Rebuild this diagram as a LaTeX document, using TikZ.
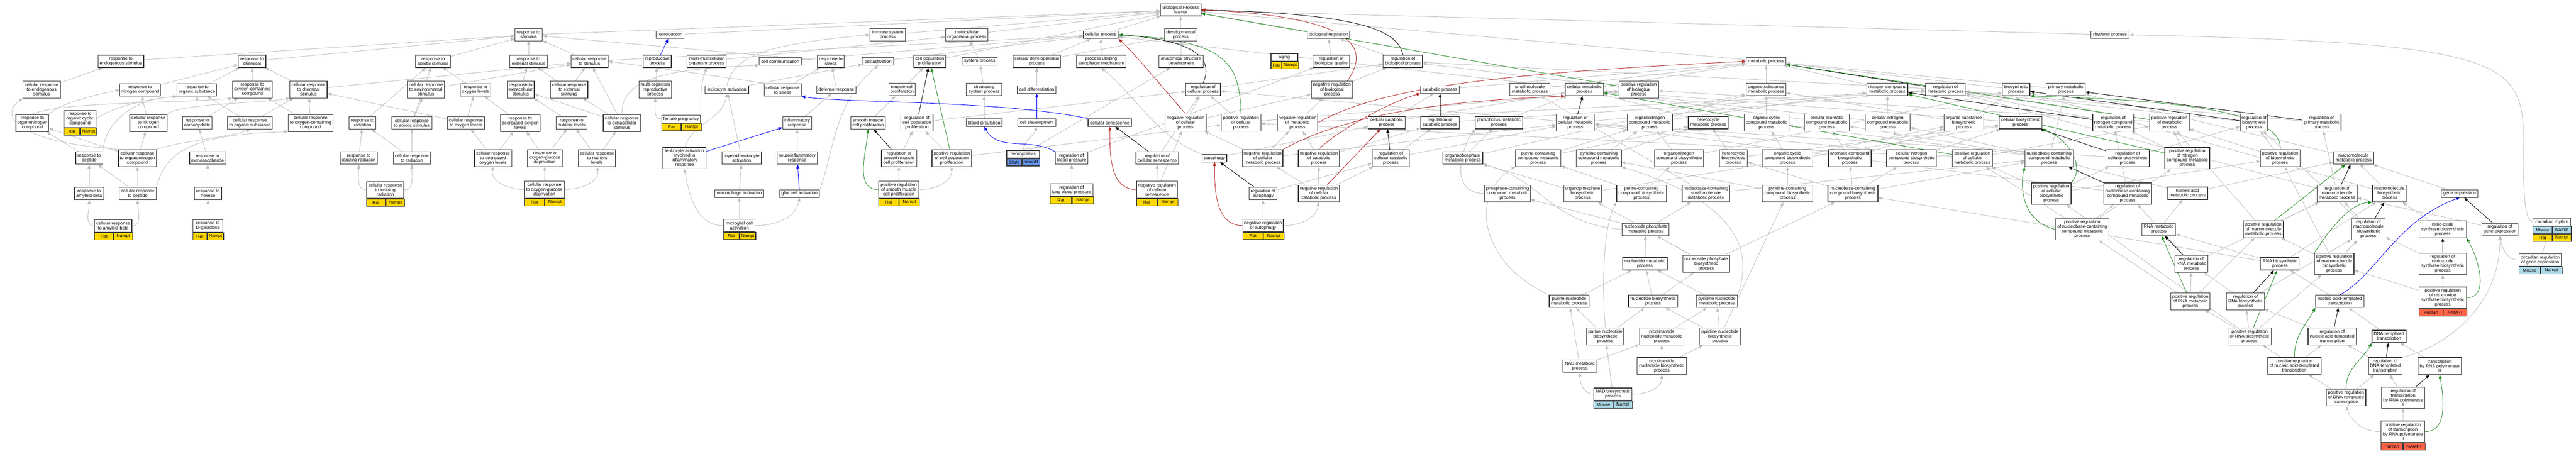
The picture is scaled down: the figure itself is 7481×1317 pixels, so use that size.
\documentclass[tikz,border=0pt]{standalone}
\usepackage{fontspec}
\setmainfont{Liberation Sans}
\usetikzlibrary{arrows.meta}
\pgfdeclarelayer{background}
\pgfsetlayers{background,main}
\definecolor{edgegray}{RGB}{190,190,190}
\definecolor{boxline}{RGB}{60,60,60}
\definecolor{gogreen}{RGB}{34,139,34}
\definecolor{gored}{RGB}{178,34,34}
\definecolor{goblue}{RGB}{0,0,255}
\definecolor{spyellow}{RGB}{255,215,0}
\definecolor{splblue}{RGB}{173,216,230}
\definecolor{spcblue}{RGB}{100,149,237}
\definecolor{sptomato}{RGB}{255,99,71}
\newcommand\gofont{\fontsize{13}{13.5}\selectfont}
\tikzset{
 gobox/.style={draw=boxline,line width=1.8pt,fill=white,align=center,inner sep=0pt,font=\gofont},
 gocell/.style={draw=boxline,line width=1.8pt,align=center,inner sep=0pt,font=\gofont,minimum height=21pt},
 isa/.style={draw=edgegray,line width=1.3pt,-{Triangle[length=11pt,width=9pt]}},
 reg/.style={isa,draw=black},
 preg/.style={isa,draw=gogreen},
 nreg/.style={isa,draw=gored},
 partof/.style={isa,draw=goblue},
}
\newcommand\gonode[6]{\node[gobox,minimum width=#4pt,minimum height=#5pt] (#1) at (#2,#3) {#6};}
\newcommand\gospec[6]{%
 \node[gocell,fill=#2,minimum width=#5pt,anchor=north west] (#1-l) at (#1.south west) {#3};
 \node[gocell,fill=#2,minimum width=#6pt,anchor=north west] (#1-r) at (#1-l.north east) {#4};}
\begin{document}
\begin{tikzpicture}[x=1pt,y=-1pt]
\useasboundingbox (0,0) rectangle (7481,1317);
\begin{pgfonlayer}{background}\fill[white] (0,0) rectangle (7481,1317);\end{pgfonlayer}
% ---------- response cluster
\gonode{n1}{351}{178}{133}{36}{response to\\endogenous stimulus}
\gonode{n2}{732}{178}{80}{36}{response to\\chemical}
\gonode{n3}{1258}{178}{101}{36}{response to\\abiotic stimulus}
\gonode{n4}{121}{260}{108}{49}{cellular response\\to endogenous\\stimulus}
\gonode{n5}{407}{261}{119}{36}{response to\\nitrogen compound}
\gonode{n6}{572}{261}{115}{36}{response to\\organic substance}
\gonode{n7}{733}{260}{115}{49}{response to\\oxygen-containing\\compound}
\gonode{n8}{896}{260}{108}{49}{cellular response\\to chemical\\stimulus}
\gonode{n9}{1237}{260}{108}{49}{cellular response\\to environmental\\stimulus}
\gonode{n10}{94}{357}{95}{49}{response to\\organonitrogen\\compound}
\gonode{n11}{232}{345.5}{93}{49}{response to\\organic cyclic\\compound}
\gospec{n11}{spyellow}{Rat}{Nampt}{46.5}{46.5}
\gonode{n12}{431}{357}{108}{49}{cellular response\\to nitrogen\\compound}
\gonode{n13}{573}{357}{85}{36}{response to\\carbohydrate}
\gonode{n14}{726}{357}{130}{36}{cellular response\\to organic substance}
\gonode{n15}{902}{357}{130}{49}{cellular response\\to oxygen-containing\\compound}
\gonode{n16}{1053}{357}{78}{36}{response to\\radiation}
\gonode{n17}{1196}{357}{116}{36}{cellular response\\to abiotic stimulus}
\gonode{n18}{259}{459}{78}{36}{response to\\peptide}
\gonode{n19}{399}{459}{110}{49}{cellular response\\to organonitrogen\\compound}
\gonode{n20}{603}{459}{105}{36}{response to\\monosaccharide}
\gonode{n21}{1042}{459}{107}{36}{response to\\ionizing radiation}
\gonode{n22}{1196}{459}{108}{36}{cellular response\\to radiation}
\gonode{n23}{259}{562}{84}{36}{response to\\amyloid-beta}
\gonode{n24}{400}{562}{108}{36}{cellular response\\to peptide}
\gonode{n25}{604}{562}{79}{36}{response to\\hexose}
\gonode{n26}{1119}{551.5}{108}{49}{cellular response\\to ionizing\\radiation}
\gospec{n26}{spyellow}{Rat}{Nampt}{54}{54}
\gonode{n27}{329}{656}{108}{36}{cellular response\\to amyloid-beta}
\gospec{n27}{spyellow}{Rat}{Nampt}{54}{54}
\gonode{n28}{604}{656}{87}{36}{response to\\D-galactose}
\gospec{n28}{spyellow}{Rat}{Nampt}{40}{47}
\gonode{n29}{1535}{101}{80}{36}{response to\\stimulus}
\gonode{n30}{1946}{101}{81}{22}{reproduction}
\gonode{n31}{2578}{101}{103}{36}{immune system\\process}
\gonode{n32}{1535}{178}{109}{36}{response to\\external stimulus}
\gonode{n33}{1712}{178}{108}{36}{cellular response\\to stimulus}
\gonode{n34}{1909}{178}{81}{36}{reproductive\\process}
\gonode{n35}{2052}{178}{113}{36}{multi-multicellular\\organism process}
\gonode{n36}{2266}{178}{122}{22}{cell communication}
\gonode{n37}{2413}{178}{78}{36}{response to\\stress}
\gonode{n38}{2550}{178}{92}{22}{cell activation}
\gonode{n39}{1381}{261}{89}{36}{response to\\oxygen levels}
\gonode{n40}{1512}{260}{79}{49}{response to\\extracellular\\stimulus}
\gonode{n41}{1653}{260}{108}{49}{cellular response\\to external\\stimulus}
\gonode{n42}{1903}{260}{94}{49}{multi-organism\\reproductive\\process}
\gonode{n43}{2111}{260}{126}{22}{leukocyte activation}
\gonode{n44}{2273}{261}{108}{36}{cellular response\\to stress}
\gonode{n45}{2429}{260}{113}{22}{defense response}
\gonode{n46}{1353}{357}{107}{36}{cellular response\\to oxygen levels}
\gonode{n47}{1511}{357}{115}{49}{response to\\decreased oxygen\\levels}
\gonode{n48}{1660}{357}{90}{36}{response to\\nutrient levels}
\gonode{n49}{1806}{357}{108}{49}{cellular response\\to extracellular\\stimulus}
\gonode{n50}{1978}{345.5}{113}{22}{female pregnancy}
\gospec{n50}{spyellow}{Rat}{Nampt}{56.5}{56.5}
\gonode{n51}{2315}{357}{84}{36}{inflammatory\\response}
\gonode{n52}{2521}{357}{101}{36}{smooth muscle\\cell proliferation}
\gonode{n53}{1432}{459}{108}{49}{cellular response\\to decreased\\oxygen levels}
\gonode{n54}{1582}{459}{102}{49}{response to\\oxygen-glucose\\deprivation}
\gonode{n55}{1734}{459}{108}{49}{cellular response\\to nutrient\\levels}
\gonode{n56}{1988}{459}{126}{62}{leukocyte activation\\involved in\\inflammatory\\response}
\gonode{n57}{2154}{459}{115}{36}{myeloid leukocyte\\activation}
\gonode{n58}{2315}{459}{117}{36}{neuroinflammatory\\response}
\gonode{n59}{1581}{550.5}{116}{49}{cellular response\\to oxygen-glucose\\deprivation}
\gospec{n59}{spyellow}{Rat}{Nampt}{58}{58}
\gonode{n60}{2147}{562}{142}{22}{macrophage activation}
\gonode{n61}{2322}{562}{116}{22}{glial cell activation}
\gonode{n62}{2147}{655}{92}{36}{microglial cell\\activation}
\gospec{n62}{spyellow}{Rat}{Nampt}{46}{46}
% ---------- top / cellular process cluster
\gonode{n63}{3429}{29}{118}{35}{Biological Process\\Nampt}
\gonode{n64}{2808}{101}{123}{36}{multicellular\\organismal process}
\gonode{n65}{3197}{101}{101}{22}{cellular process}
\gonode{n66}{3429}{101}{94}{36}{developmental\\process}
\gonode{n67}{3858}{101}{122}{22}{biological regulation}
\gonode{n68}{2700}{178}{93}{36}{cell population\\proliferation}
\gonode{n69}{2845}{178}{102}{22}{system process}
\gonode{n70}{3011}{178}{138}{36}{cellular developmental\\process}
\gonode{n71}{3198}{178}{144}{36}{process utilizing\\autophagic mechanism}
\gonode{n72}{3430}{178}{128}{36}{anatomical structure\\development}
\gonode{n73}{3730}{166.5}{78}{22}{aging}
\gospec{n73}{spyellow}{Rat}{Nampt}{31}{47}
\gonode{n74}{3866}{178}{107}{36}{regulation of\\biological quality}
\gonode{n75}{2620}{260}{77}{36}{muscle cell\\proliferation}
\gonode{n76}{2858}{260}{103}{36}{circulatory\\system process}
\gonode{n77}{3011}{260}{112}{22}{cell differentiation}
\gonode{n78}{3494}{260}{101}{36}{regulation of\\cellular process}
\gonode{n79}{3868}{260}{120}{49}{negative regulation\\of biological\\process}
\gonode{n80}{2663}{356}{93}{49}{regulation of\\cell population\\proliferation}
\gonode{n81}{2858}{356}{104}{22}{blood circulation}
\gonode{n82}{3011}{356}{110}{22}{cell development}
\gonode{n83}{3223}{356}{126}{22}{cellular senescence}
\gonode{n84}{3443}{356}{119}{49}{negative regulation\\of cellular\\process}
\gonode{n85}{3604}{356}{115}{49}{positive regulation\\of cellular\\process}
\gonode{n86}{3768}{356}{117}{49}{negative regulation\\of metabolic\\process}
\gonode{n87}{2611}{459}{102}{49}{regulation of\\smooth muscle\\cell proliferation}
\gonode{n88}{2764}{459}{115}{49}{positive regulation\\of cell population\\proliferation}
\gonode{n89}{2971}{448}{95}{22}{hemopoiesis}
\gospec{n89}{spcblue}{Zfish}{nampt1}{43}{52}
\gonode{n90}{3112}{459}{95}{36}{regulation of\\blood pressure}
\gonode{n91}{3361}{459}{124}{36}{regulation of\\cellular senescence}
\gonode{n92}{3527}{459}{71}{22}{autophagy}
\gonode{n93}{3667}{459}{117}{49}{negative regulation\\of cellular\\metabolic process}
\gonode{n94}{3830}{459}{119}{49}{negative regulation\\of catabolic\\process}
\gonode{n95}{2610}{550.5}{117}{49}{positive regulation\\of smooth muscle\\cell proliferation}
\gospec{n95}{spyellow}{Rat}{Nampt}{58.5}{58.5}
\gonode{n96}{3112}{551}{124}{36}{regulation of\\lung blood pressure}
\gospec{n96}{spyellow}{Rat}{Nampt}{62}{62}
\gonode{n97}{3360}{550.5}{119}{49}{negative regulation\\of cellular\\senescence}
\gospec{n97}{spyellow}{Rat}{Nampt}{59.5}{59.5}
\gonode{n98}{3668}{562}{81}{36}{regulation of\\autophagy}
\gonode{n99}{3830}{562}{119}{49}{negative regulation\\of cellular\\catabolic process}
\gonode{n100}{3668}{655}{118}{36}{negative regulation\\of autophagy}
\gospec{n100}{spyellow}{Rat}{Nampt}{59}{59}
% ---------- metabolic cluster
\gonode{n101}{4074}{178}{114}{36}{regulation of\\biological process}
\gonode{n102}{5129}{178}{116}{22}{metabolic process}
\gonode{n103}{4182}{260}{112}{22}{catabolic process}
\gonode{n104}{4443}{260}{116}{36}{small molecule\\metabolic process}
\gonode{n105}{4601}{260}{111}{36}{cellular metabolic\\process}
\gonode{n106}{4759}{260}{115}{49}{positive regulation\\of biological\\process}
\gonode{n107}{5129}{260}{116}{36}{organic substance\\metabolic process}
\gonode{n108}{4027}{356}{107}{36}{cellular catabolic\\process}
\gonode{n109}{4182}{356}{112}{36}{regulation of\\catabolic process}
\gonode{n110}{4353}{356}{137}{36}{phosphorus metabolic\\process}
\gonode{n111}{4575}{356}{111}{49}{regulation of\\cellular metabolic\\process}
\gonode{n112}{4791}{356}{131}{49}{organonitrogen\\compound metabolic\\process}
\gonode{n113}{4961}{356}{116}{36}{heterocycle\\metabolic process}
\gonode{n114}{5130}{356}{130}{49}{organic cyclic\\compound metabolic\\process}
\gonode{n115}{4039}{459}{108}{49}{regulation of\\cellular catabolic\\process}
\gonode{n116}{4248}{459}{116}{36}{organophosphate\\metabolic process}
\gonode{n117}{4467}{459}{131}{49}{purine-containing\\compound metabolic\\process}
\gonode{n118}{4643}{459}{131}{49}{pyridine-containing\\compound metabolic\\process}
\gonode{n119}{4876}{459}{143}{49}{organonitrogen\\compound biosynthetic\\process}
\gonode{n120}{5034}{459}{80}{49}{heterocycle\\biosynthetic\\process}
\gonode{n121}{5191}{459}{146}{49}{organic cyclic\\compound biosynthetic\\process}
\gonode{n122}{4378}{562}{133}{49}{phosphate-containing\\compound metabolic\\process}
\gonode{n123}{4596}{562}{109}{49}{organophosphate\\biosynthetic\\process}
\gonode{n124}{4767}{562}{144}{49}{purine-containing\\compound biosynthetic\\process}
\gonode{n125}{4954}{562}{138}{49}{nucleobase-containing\\small molecule\\metabolic process}
\gonode{n126}{5191}{562}{146}{49}{pyridine-containing\\compound biosynthetic\\process}
\gonode{n127}{5381}{562}{145}{49}{nucleobase-containing\\compound biosynthetic\\process}
\gonode{n128}{4779}{666}{136}{36}{nucleoside phosphate\\metabolic process}
\gonode{n129}{4777}{766}{129}{36}{nucleotide metabolic\\process}
\gonode{n130}{4955}{766}{136}{49}{nucleoside phosphate\\biosynthetic\\process}
\gonode{n131}{4557}{875}{116}{36}{purine nucleotide\\metabolic process}
\gonode{n132}{4801}{875}{143}{36}{nucleotide biosynthetic\\process}
\gonode{n133}{4986}{875}{119}{36}{pyridine nucleotide\\metabolic process}
\gonode{n134}{4662}{977}{108}{49}{purine nucleotide\\biosynthetic\\process}
\gonode{n135}{4826}{977}{129}{49}{nicotinamide\\nucleotide metabolic\\process}
\gonode{n136}{4995}{977}{119}{49}{pyridine nucleotide\\biosynthetic\\process}
\gonode{n137}{4588}{1063}{98}{36}{NAD metabolic\\process}
\gonode{n138}{4826}{1063}{143}{49}{nicotinamide\\nucleotide biosynthetic\\process}
\gonode{n139}{4684}{1144.5}{110}{36}{NAD biosynthetic\\process}
\gospec{n139}{splblue}{Mouse}{Nampt}{55}{55}
\gonode{n140}{6128}{101}{111}{22}{rhythmic process}
\gonode{n141}{5481}{260}{119}{36}{nitrogen compound\\metabolic process}
\gonode{n142}{5650}{260}{115}{36}{regulation of\\metabolic process}
\gonode{n143}{5855}{260}{80}{36}{biosynthetic\\process}
\gonode{n144}{5999}{260}{113}{36}{primary metabolic\\process}
\gonode{n145}{5305}{356}{131}{49}{cellular aromatic\\compound metabolic\\process}
\gonode{n146}{5482}{356}{130}{49}{cellular nitrogen\\compound metabolic\\process}
\gonode{n147}{5703}{356}{115}{49}{organic substance\\biosynthetic\\process}
\gonode{n148}{5868}{356}{125}{36}{cellular biosynthetic\\process}
\gonode{n149}{6137}{356}{119}{49}{regulation of\\nitrogen compound\\metabolic process}
\gonode{n150}{6300}{356}{115}{49}{positive regulation\\of metabolic\\process}
\gonode{n151}{5372}{459}{124}{49}{aromatic compound\\biosynthetic\\process}
\gonode{n152}{5551}{459}{144}{49}{cellular nitrogen\\compound biosynthetic\\process}
\gonode{n153}{5728}{459}{116}{49}{positive regulation\\of cellular\\metabolic process}
\gonode{n154}{5951}{459}{140}{49}{nucleobase-containing\\compound metabolic\\process}
\gonode{n155}{6179}{459}{126}{49}{regulation of\\cellular biosynthetic\\process}
\gonode{n156}{6352}{459}{130}{62}{positive regulation\\of nitrogen\\compound metabolic\\process}
\gonode{n157}{5957}{562}{115}{62}{positive regulation\\of cellular\\biosynthetic\\process}
\gonode{n158}{6179}{562}{138}{62}{regulation of\\nucleobase-containing\\compound metabolic\\process}
\gonode{n159}{6353}{561}{116}{36}{nucleic acid\\metabolic process}
\gonode{n160}{6047}{666}{155}{62}{positive regulation\\of nucleobase-containing\\compound metabolic\\process}
\gonode{n161}{6269}{666}{97}{36}{RNA metabolic\\process}
\gonode{n162}{6364}{766}{96}{49}{regulation of\\RNA metabolic\\process}
\gonode{n163}{6361}{875}{113}{49}{positive regulation\\of RNA metabolic\\process}
\gonode{n164}{6546}{356}{80}{49}{regulation of\\biosynthetic\\process}
\gonode{n165}{6742}{356}{113}{49}{regulation of\\primary metabolic\\process}
\gonode{n166}{6622}{459}{115}{49}{positive regulation\\of biosynthetic\\process}
\gonode{n167}{6835}{459}{116}{36}{macromolecule\\metabolic process}
\gonode{n168}{6787}{562}{116}{49}{regulation of\\macromolecule\\metabolic process}
\gonode{n169}{6939}{562}{98}{49}{macromolecule\\biosynthetic\\process}
\gonode{n170}{7143}{562}{106}{22}{gene expression}
\gonode{n171}{7411}{644.5}{109}{22}{circadian rhythm}
\gospec{n171}{splblue}{Mouse}{Nampt}{54.5}{54.5}
\node[gocell,fill=spyellow,minimum width=54.5pt,anchor=north west] (n171-l2) at (n171-l.south west) {Rat};
\node[gocell,fill=spyellow,minimum width=54.5pt,anchor=north west] (n171-r2) at (n171-l2.north east) {Nampt};
\gonode{n172}{6573}{666}{116}{49}{positive regulation\\of macromolecule\\metabolic process}
\gonode{n173}{6878}{666}{98}{62}{regulation of\\macromolecule\\biosynthetic\\process}
\gonode{n174}{7094}{666}{137}{49}{nitric-oxide\\synthase biosynthetic\\process}
\gonode{n175}{7260}{666}{105}{36}{regulation of\\gene expression}
\gonode{n176}{7377}{755}{124}{36}{circadian regulation\\of gene expression}
\gospec{n176}{splblue}{Mouse}{Nampt}{62}{62}
\gonode{n178}{6621}{766}{112}{36}{RNA biosynthetic\\process}
\gonode{n179}{6779}{766}{114}{62}{positive regulation\\of macromolecule\\biosynthetic\\process}
\gonode{n180}{7094}{766}{137}{62}{regulation of\\nitric-oxide\\synthase biosynthetic\\process}
\gonode{n182}{6521}{875}{111}{49}{regulation of\\RNA biosynthetic\\process}
\gonode{n183}{6795}{875}{140}{36}{nucleic acid-templated\\transcription}
\gonode{n184}{7094}{864.5}{137}{62}{positive regulation\\of nitric-oxide\\synthase biosynthetic\\process}
\gospec{n184}{sptomato}{Human}{NAMPT}{68.5}{68.5}
\gonode{n185}{6533}{977}{125}{49}{positive regulation\\of RNA biosynthetic\\process}
\gonode{n186}{6773}{977}{140}{49}{regulation of\\nucleic acid-templated\\transcription}
\gonode{n187}{6938}{977}{99}{36}{DNA-templated\\transcription}
\gonode{n188}{6663}{1063}{156}{49}{positive regulation\\of nucleic acid-templated\\transcription}
\gonode{n189}{6927}{1063}{98}{49}{regulation of\\DNA-templated\\transcription}
\gonode{n190}{7085}{1063}{125}{49}{transcription\\by RNA polymerase\\II}
\gonode{n191}{6813}{1154}{115}{49}{positive regulation\\of DNA-templated\\transcription}
\gonode{n192}{6979}{1155}{125}{62}{regulation of\\transcription\\by RNA polymerase\\II}
\gonode{n193}{6978}{1253.5}{127}{62}{positive regulation\\of transcription\\by RNA polymerase\\II}
\gospec{n193}{sptomato}{Human}{NAMPT}{63.5}{63.5}
% ---------- connectors
\begin{pgfonlayer}{background}
\foreach \a/\b in {n1/n29, n2/n29, n3/n29, n32/n29, n33/n29, n37/n29,
 n29/n63, n30/n63, n31/n63, n64/n63, n65/n63, n66/n63, n67/n63, n68/n63, n102/n63, n140/n63,
 n33/n65, n36/n65, n38/n65, n4/n1,
 n5/n2, n6/n2, n7/n2, n8/n2, n8/n33, n9/n33,
 n12/n5, n13/n7, n13/n6, n14/n6, n14/n8, n15/n7, n15/n8,
 n16/n3, n17/n3, n17/n9, n18/n10, n19/n10, n19/n12,
 n20/n13, n21/n16, n22/n16, n22/n17, n23/n18, n24/n18, n24/n19, n25/n20, n28/n25,
 n39/n3, n40/n32, n41/n32, n41/n33,
 n46/n39, n46/n8, n47/n39, n48/n40, n49/n40, n49/n41, n49/n33,
 n53/n46, n53/n47, n54/n47, n54/n48, n55/n48, n55/n49, n59/n54,
 n42/n34, n35/n64, n43/n38, n44/n37, n45/n37, n51/n45,
 n57/n43, n58/n51, n60/n57, n62/n60,
 n69/n64, n70/n65, n70/n66, n71/n65, n72/n66, n74/n67, n75/n68, n76/n69, n77/n70,
 n78/n101, n79/n101, n80/n78, n81/n76, n82/n70, n84/n78, n84/n79, n85/n78, n85/n106, n86/n79, n86/n142,
 n87/n80, n88/n80, n88/n85, n89/n72, n90/n74, n91/n78, n92/n108, n93/n84, n93/n86, n93/n111, n94/n86, n94/n109,
 n95/n87, n96/n90, n97/n91, n97/n84, n98/n115, n99/n94, n99/n93, n99/n115, n100/n98, n52/n75, n101/n67, n106/n101,
 n103/n102, n104/n102, n105/n102, n107/n102, n141/n102, n143/n102, n144/n102, n105/n65,
 n108/n103, n108/n105, n109/n142, n110/n105, n111/n78, n111/n142, n112/n107, n112/n141, n113/n105, n114/n107,
 n115/n109, n115/n111, n116/n110, n116/n107, n117/n113, n117/n112, n118/n113, n118/n112, n119/n112, n119/n143,
 n120/n113, n120/n148, n121/n114, n121/n147,
 n123/n116, n123/n148, n124/n117, n124/n119, n125/n104, n125/n154, n126/n118, n126/n121,
 n127/n154, n127/n151, n127/n152, n127/n120,
 n128/n122, n128/n125, n129/n128, n130/n128, n130/n123, n130/n127, n131/n129, n132/n129, n132/n130, n133/n129,
 n134/n131, n134/n132, n135/n133, n136/n133, n136/n132, n136/n126, n137/n131, n137/n135, n138/n135, n138/n136, n139/n134,
 n142/n101, n145/n105, n146/n141, n146/n105, n147/n107, n147/n143, n148/n143, n148/n105, n149/n142, n150/n142, n150/n106,
 n151/n145, n151/n147, n152/n146, n152/n148, n153/n111, n153/n150, n153/n85, n154/n146, n154/n145, n154/n144, n154/n114,
 n155/n111, n155/n164, n156/n149, n156/n150, n157/n155, n157/n153, n157/n166, n158/n149, n158/n111, n159/n154, n159/n167,
 n160/n158, n160/n153, n160/n156, n161/n159, n162/n158, n162/n168, n163/n162, n163/n160, n163/n172,
 n164/n142, n165/n142, n166/n164, n166/n150, n167/n144, n168/n142, n168/n165, n169/n167, n169/n143, n170/n167,
 n172/n168, n172/n150, n173/n168, n173/n164, n174/n169, n175/n168, n176/n171,
 n178/n161, n178/n169, n178/n127, n179/n173, n179/n172, n179/n166, n180/n173, n182/n162, n182/n173, n183/n178,
 n184/n180, n184/n179, n185/n182, n185/n163, n185/n179, n185/n157, n186/n182, n187/n183, n188/n186, n188/n185,
 n189/n186, n190/n187, n191/n189, n191/n188, n192/n189, n193/n192}
 {\draw[isa] (\a) -- (\b);}
% curved is_a connectors
\draw[isa] (n10.north east) .. controls (170,300) and (280,275) .. (n5.west);
\draw[isa] (n10.north) .. controls (170,295) and (520,300) .. (n7.south west);
\draw[isa] (n11.east) .. controls (310,320) and (400,290) .. (n6.south west);
\draw[isa] (n18.north east) .. controls (300,380) and (360,290) .. (n6.south west);
\draw[isa] (n12.north east) .. controls (520,300) and (760,300) .. (n8.south west);
\draw[isa] (n24.north east) .. controls (480,440) and (560,390) .. (n15.south west);
\draw[isa] (n19.north east) .. controls (520,410) and (660,400) .. (n14.south);
\draw[isa] (n19.north west) .. controls (30,410) and (2,330) .. (n4.south west);
\draw[isa] (n26.west) to[out=180,in=-90] (n21.south);
\draw[isa] (n26.east) to[out=0,in=-90] (n22.south);
\draw[isa] (n27.west) to[out=180,in=-90] (n23.south);
\draw[isa] (n27.east) to[out=0,in=-90] (n24.south);
\draw[isa] (n59.west) to[out=180,in=-100] (n53.south);
\draw[isa] (n59.east) to[out=0,in=-80] (n55.south);
\draw[isa] (n44.north west) .. controls (2120,225) and (1850,190) .. (n33.east);
\draw[isa] (n49.north) .. controls (1805,240) and (1900,200) .. (n36.south west);
\draw[isa] (n50.west) to[out=180,in=-90] (n42.south);
\draw[isa] (n50.north east) to[out=90,in=-110] (n35.south);
\draw[isa] (n56.north) to[out=70,in=-100] (n43.south);
\draw[isa] (n62.west) to[out=180,in=-80] (n56.south);
\draw[isa] (n62.east) to[out=0,in=-100] (n61.south);
\draw[isa] (n61.north east) .. controls (2420,450) and (2420,300) .. (n38.south);
\draw[isa] (n43.north) .. controls (2130,170) and (2200,130) .. (n31.west);
\draw[isa] (n95.east) to[out=0,in=-90] (n88.south);
\draw[isa] (n100.east) to[out=0,in=-100] (n99.south);
\draw[isa] (n139.west) to[out=180,in=-90] (n137.south);
\draw[isa] (n139.east) to[out=0,in=-90] (n138.south);
\draw[isa] (n193.west) to[out=180,in=-70] (n191.south);
\draw[isa] (n176.west) to[out=180,in=-80] (n175.south);
\draw[isa] (n189.north east) .. controls (7120,1000) and (7260,880) .. (n175.south);
\draw[isa] (n171.west) .. controls (7330,640) and (7328,560) .. (7328,400) .. controls (7328,170) and (7250,125) .. (n140.east);
\draw[isa] (n92.north west) .. controls (3360,400) and (3300,280) .. (n71.south);
\draw[isa] (n89.north) to[out=80,in=-110] (n82.south);
\draw[isa] (n122.west) .. controls (4200,560) and (4250,420) .. (n110.south west);
\draw[isa] (n131.north west) .. controls (4290,760) and (4270,560) .. (n117.south west);
\draw[isa] (n133.north east) .. controls (5080,760) and (5090,600) .. (n118.south east);
\draw[isa] (n128.west) .. controls (4500,650) and (4480,520) .. (n116.south east);
\draw[isa] (n134.north) .. controls (4650,800) and (4660,650) .. (n124.south west);
% regulates (black)
\foreach \a/\b in {n80/n68, n87/n52, n91/n83, n98/n92, n109/n103, n111/n105, n115/n108, n142/n102,
 n149/n141, n155/n148, n158/n154, n162/n161, n164/n143, n165/n144, n168/n167, n173/n169, n175/n170,
 n180/n174, n182/n178, n186/n183, n189/n187, n192/n190}
 {\draw[reg] (\a) -- (\b);}
\draw[reg] (n78.north) .. controls (3530,160) and (3450,115) .. (n65.east);
\draw[reg] (n101.north) .. controls (4060,90) and (3960,40) .. (n63.east);
% positively regulates (green)
\foreach \a/\b in {n88/n68, n106/n63, n150/n102, n153/n105, n156/n141, n163/n161, n172/n167, n185/n178}
 {\draw[preg] (\a) -- (\b);}
\draw[preg] (n85.north) .. controls (3600,180) and (3560,118) .. (n65.east);
\draw[preg] (n95.west) to[out=180,in=-95] (n52.south);
\draw[preg] (n157.north east) .. controls (6060,480) and (6000,400) .. (n148.south east);
\draw[preg] (n160.west) .. controls (5860,640) and (5870,520) .. (n154.south west);
\draw[preg] (n166.north) .. controls (6630,320) and (6300,290) .. (n143.south east);
\draw[preg] (n179.north west) .. controls (6776,650) and (6830,590) .. (n169.south west);
\draw[preg] (n184.east) to[out=0,in=-60] (n174.south east);
\draw[preg] (n188.north) to[out=90,in=-120] (n183.south west);
\draw[preg] (n191.north) to[out=90,in=-120] (n187.south west);
\draw[preg] (n193.east) to[out=0,in=-80] (n190.south);
% negatively regulates (red)
\draw[nreg] (n99) -- (n108);
\draw[nreg] ([xshift=45pt]n79.north) .. controls (3965,160) and (3985,50) .. (n63.east);
\draw[nreg] (n84.north) .. controls (3390,270) and (3290,150) .. (n65.south east);
\draw[nreg] (n86.east) .. controls (4000,260) and (4300,215) .. (n102.west);
\draw[nreg] (n93.north east) .. controls (3950,310) and (4300,290) .. (n105.south west);
\draw[nreg] (n94.north) .. controls (3880,380) and (4050,290) .. (n103.south west);
\draw[nreg] (n97.west) to[out=180,in=-90] (n83.south);
\draw[nreg] (n100.west) to[out=180,in=-90] (n92.south);
% part of (blue)
\foreach \a/\b in {n34/n30, n56/n51, n61/n58, n82/n77}
 {\draw[partof] (\a) -- (\b);}
\draw[partof] (n90.north west) to[out=150,in=-60] (n81.south);
\draw[partof] (n83.north west) .. controls (2900,290) and (2450,300) .. (n44.south east);
\draw[partof] (n183.north) .. controls (6900,800) and (6960,640) .. (n170.south);
\end{pgfonlayer}
\end{tikzpicture}
\end{document}
